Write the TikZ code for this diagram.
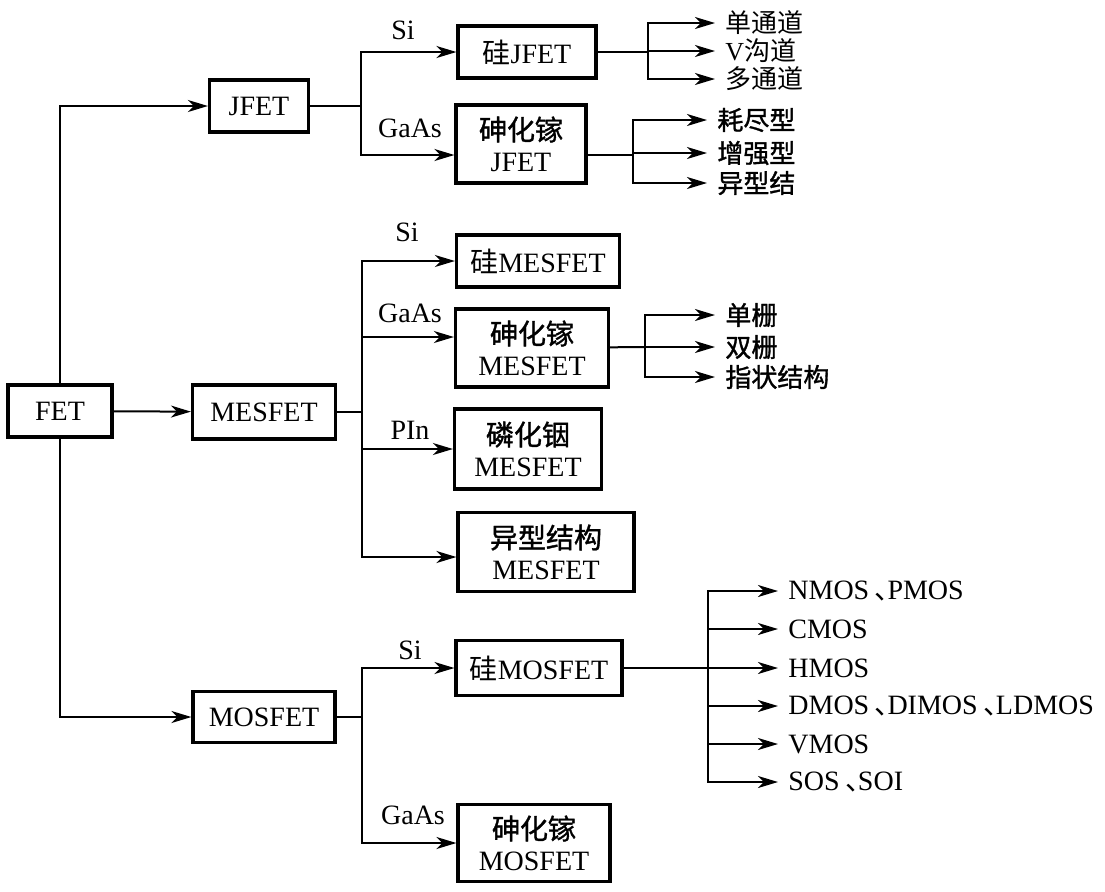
\documentclass[tikz,border=0pt]{standalone}
\usepackage{fontspec}
\setmainfont{Liberation Serif}
\newfontfamily\cjk{Noto Sans CJK SC}
\newfontfamily\cjkb{Noto Sans CJK SC}[FakeBold=1.3]
\usetikzlibrary{arrows.meta}
\newcommand{\dun}{\hspace{0.2em}\makebox[0.45em][l]{\cjk 、}}

\begin{document}
\begin{tikzpicture}[
    x=0.5pt, y=-0.5pt,
    font=\fontsize{14}{15.5}\selectfont,
    box/.style={rectangle, draw, line width=1.6pt, inner sep=0pt, align=center},
    leaf/.style={anchor=west, inner xsep=5pt, inner ysep=0pt},
    cleaf/.style={leaf, font=\fontsize{13}{14}\selectfont},
    mat/.style={inner sep=0pt},
    line/.style={line width=1pt},
    arrow/.style={line width=1pt, -{Stealth[length=10pt, width=6pt, inset=3pt]}}
]
    \useasboundingbox (0,0) rectangle (1105,891);

    % main boxes
    \node [box, minimum width=52pt, minimum height=26pt] (fet) at (60,411) {FET};
    \node [box, minimum width=49.5pt, minimum height=26pt] (jfet) at (259,106) {JFET};
    \node [box, minimum width=71.5pt, minimum height=27pt] (mes) at (264,412) {MESFET};
    \node [box, minimum width=71pt, minimum height=25.5pt] (mos) at (264,717) {MOSFET};

    \draw [arrow] (fet.north) |- (jfet);
    \draw [arrow] (fet) -- (mes);
    \draw [arrow] (fet.south) |- (mos);

    % JFET
    \node [box, minimum width=69pt, minimum height=26pt] (sijfet) at (527,52) {{\cjk 硅}JFET};
    \node [box, minimum width=65pt, minimum height=39pt] (gajfet) at (521,144) {{\cjkb 砷化镓}\\JFET};
    \node [mat] (jsi) at (403,30) {Si};
    \node [mat] (jga) at (410,128) {GaAs};
    \coordinate (jb) at (361,106);
    \draw [line] (jfet) -- (jb);
    \draw [arrow] (jb) |- (sijfet);
    \draw [arrow] (jb) |- ([yshift=-5.5pt]gajfet.west);

    \node [cleaf] (dan) at (715,23) {\cjk 单通道};
    \node [cleaf] (vgou) at (715,51) {V{\cjk 沟道}};
    \node [cleaf] (duo) at (715,79) {\cjk 多通道};
    \coordinate (sjb) at (648,52);
    \draw [line] (sijfet) -- (sjb);
    \draw [arrow] (sjb) |- (dan);
    \draw [arrow] (sjb) |- (vgou);
    \draw [arrow] (sjb) |- (duo);

    \node [cleaf] (hao) at (707,120) {\cjkb 耗尽型};
    \node [cleaf] (zeng) at (707,153) {\cjkb 增强型};
    \node [cleaf] (yi) at (707,183) {\cjkb 异型结};
    \coordinate (gjb) at (633,155);
    \draw [line] ([yshift=-5.5pt]gajfet.east) -- (gjb);
    \draw [arrow] (gjb) |- (hao);
    \draw [arrow] (gjb) |- (zeng);
    \draw [arrow] (gjb) |- (yi);

    % MESFET
    \node [box, minimum width=81.5pt, minimum height=26pt] (simes) at (538,261) {{\cjk 硅}MESFET};
    \node [box, minimum width=76.5pt, minimum height=39pt] (games) at (532,348) {{\cjkb 砷化镓}\\MESFET};
    \node [box, minimum width=73.5pt, minimum height=40pt] (pmes) at (528,449) {{\cjkb 磷化铟}\\MESFET};
    \node [box, minimum width=88pt, minimum height=39.5pt] (hmes) at (546,552) {{\cjkb 异型结构}\\MESFET};
    \node [mat] (msi) at (407,232) {Si};
    \node [mat] (mga) at (410,313) {GaAs};
    \node [mat] (mpin) at (410,430) {PIn};
    \coordinate (mb) at (362,412);
    \draw [line] (mes) -- (mb);
    \draw [arrow] (mb) |- (simes);
    \draw [arrow] (mb) |- ([yshift=5.5pt]games.west);
    \draw [arrow] (mb) |- (pmes);
    \draw [arrow] (mb) |- ([yshift=-2.5pt]hmes.west);

    \node [cleaf] (dshan) at (715,315) {\cjkb 单栅};
    \node [cleaf] (sshan) at (715,347) {\cjkb 双栅};
    \node [cleaf] (zhi) at (715,377) {\cjkb 指状结构};
    \coordinate (gmb) at (645,347);
    \draw [line] (games) -- (gmb);
    \draw [arrow] (gmb) |- (dshan);
    \draw [arrow] (gmb) |- (sshan);
    \draw [arrow] (gmb) |- (zhi);

    % MOSFET
    \node [box, minimum width=83pt, minimum height=27.5pt] (simos) at (539,668) {{\cjk 硅}MOSFET};
    \node [box, minimum width=76pt, minimum height=38.5pt] (gamos) at (534,843) {{\cjkb 砷化镓}\\MOSFET};
    \node [mat] (osi) at (410,650) {Si};
    \node [mat] (oga) at (413,815) {GaAs};
    \coordinate (ob) at (362,717);
    \draw [line] (mos) -- (ob);
    \draw [arrow] (ob) |- (simos);
    \draw [arrow] (ob) |- (gamos);

    \node [leaf] (nmos) at (778,591) {NMOS\dun PMOS};
    \node [leaf] (cmos) at (778,629) {CMOS};
    \node [leaf] (hmos) at (778,668) {HMOS};
    \node [leaf] (dmos) at (778,706) {DMOS\dun DIMOS\dun LDMOS};
    \node [leaf] (vmos) at (778,744) {VMOS};
    \node [leaf] (sos) at (778,782) {SOS\dun SOI};
    \coordinate (smb) at (708,668);
    \draw [line] (simos) -- (smb);
    \draw [arrow] (smb) |- (nmos);
    \draw [arrow] (smb) |- (cmos);
    \draw [arrow] (smb) |- (hmos);
    \draw [arrow] (smb) |- (dmos);
    \draw [arrow] (smb) |- (vmos);
    \draw [arrow] (smb) |- (sos);
\end{tikzpicture}
\end{document}
